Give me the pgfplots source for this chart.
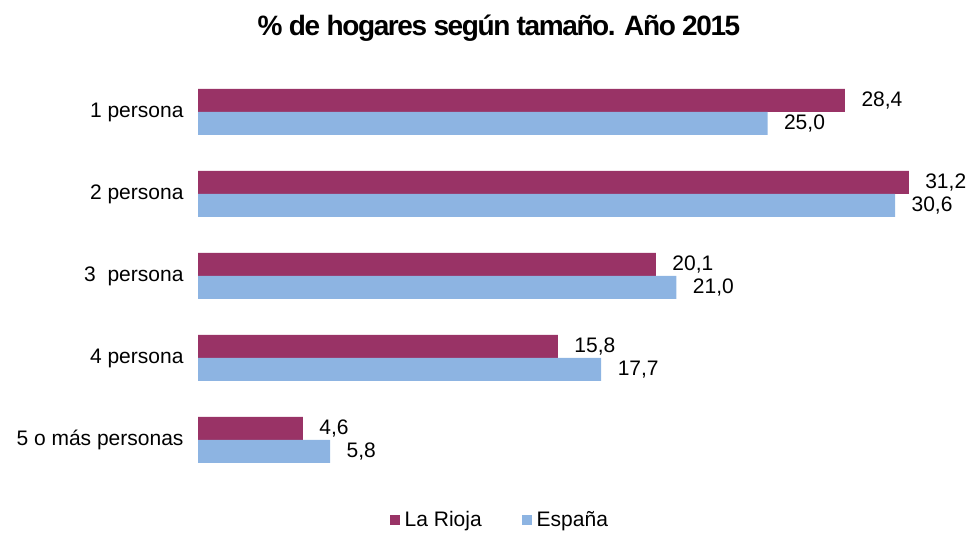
\documentclass[border=0pt]{standalone}
\usepackage{pgfplots}
\pgfplotsset{compat=1.18}
\usepackage{fontspec}
\setmainfont{Liberation Sans}
\definecolor{rioja}{RGB}{153,51,102}
\definecolor{espana}{RGB}{141,180,226}
\begin{document}
\begin{tikzpicture}[x=1pt,y=1pt]
\path[use as bounding box] (0,0) rectangle (967,533);
\node[font=\bfseries\fontsize{28}{32}\selectfont\addfontfeature{LetterSpace=-5}] at (499,505) {\% de hogares según tamaño. Año 2015};
\begin{axis}[
  at={(198pt,52pt)}, anchor=south west,
  scale only axis, width=729pt, height=410pt,
  xbar, bar width=23pt,
  xmin=0, xmax=32, ymin=-0.5, ymax=4.5,
  axis line style={draw=none}, axis lines*=left,
  xtick=\empty, ytick={0,1,2,3,4},
  yticklabels={5 o más personas,4 persona,3\ \ persona,2 persona,1 persona},
  major tick length=0pt,
  yticklabel style={font=\fontsize{21}{25}\selectfont, xshift=-11pt},
  nodes near coords,
  nodes near coords style={font=\fontsize{21}{25}\selectfont, xshift=13pt,
    /pgf/number format/fixed, /pgf/number format/fixed zerofill,
    /pgf/number format/precision=1, /pgf/number format/use comma,
    /pgf/number format/assume math mode=true},
  legend style={at={(0.414,-0.095)}, anchor=center, draw=none, legend columns=2, font=\fontsize{21}{25}\selectfont,
    /tikz/every odd column/.append style={column sep=3pt},
    /tikz/every even column/.append style={column sep=38pt}},
  legend image code/.code={\fill[#1] (0pt,-5pt) rectangle (10pt,5pt);},
]
\addplot[fill=rioja, draw=none, bar shift=11.5pt] coordinates {(4.6,0) (15.8,1) (20.1,2) (31.2,3) (28.4,4)};
\addlegendentry{La Rioja}
\addplot[fill=espana, draw=none, bar shift=-11.5pt] coordinates {(5.8,0) (17.7,1) (21.0,2) (30.6,3) (25.0,4)};
\addlegendentry{España}
\end{axis}
\end{tikzpicture}
\end{document}
